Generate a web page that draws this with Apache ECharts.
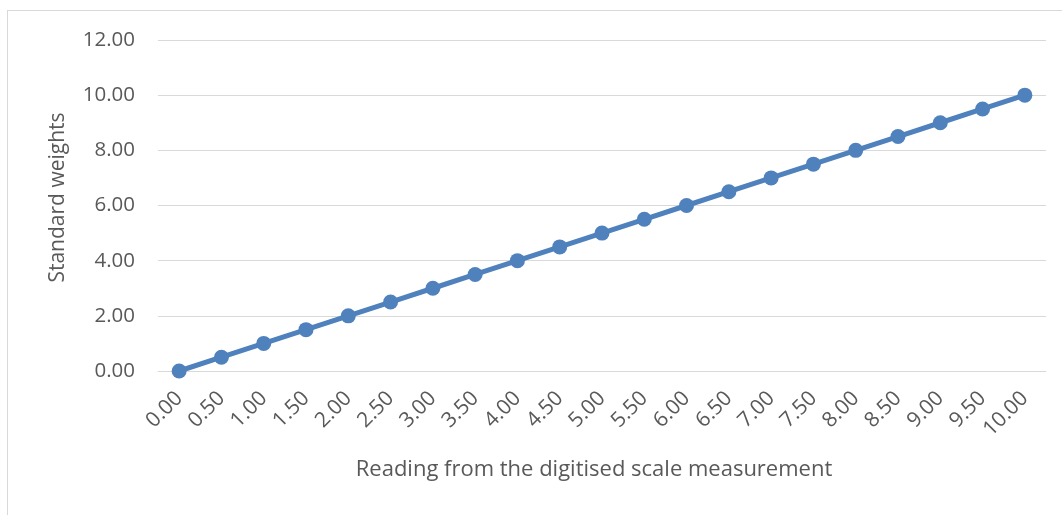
<!DOCTYPE html>
<html>
<head>
<meta charset="utf-8">
<script src="https://cdn.jsdelivr.net/npm/echarts@6/dist/echarts.min.js"></script>
<style>
  html, body { margin: 0; padding: 0; background: #fff; }
  .frame {
    position: absolute; left: 7px; top: 10px; width: 1070px; height: 520px;
    border: 1px solid #d9d9d9; box-sizing: border-box;
  }
  #chart { position: absolute; left: 0; top: 0; width: 1062px; height: 515px; }
</style>
</head>
<body>
<div class="frame"></div>
<div id="chart"></div>
<script>
// readings from the scale (x categories)
const readings = ["0.00","0.50","1.00","1.50","2.00","2.50","3.00","3.50","4.00","4.50","5.00",
  "5.50","6.00","6.50","7.00","7.50","8.00","8.50","9.00","9.50","10.00"];
// standard weights (y values)
const weights = [0, 0.5, 1, 1.5, 2, 2.5, 3, 3.5, 4, 4.5, 5, 5.5, 6, 6.5, 7, 7.5, 8, 8.5, 9, 9.5, 10];

const myChart = echarts.init(document.getElementById("chart"));
const font = "'Open Sans', sans-serif";

let options = {
  animation: false,
  color: ["#4f81bd"],
  grid: { left: 158, right: 16, top: 40, bottom: 144 },
  xAxis: {
    type: "category",
    data: readings,
    boundaryGap: true,
    name: "Reading from the digitised scale measurement",
    nameLocation: "middle",
    nameGap: 88,
    nameTextStyle: { color: "#595959", fontSize: 22, fontFamily: font, padding: [0, 16, 0, 0] },
    axisLine: { lineStyle: { color: "#d9d9d9", width: 1 } },
    axisTick: { show: false },
    axisLabel: {
      rotate: 45, interval: 0, margin: 24,
      color: "#595959", fontSize: 21, fontFamily: font
    }
  },
  yAxis: {
    type: "value",
    min: 0, max: 12, interval: 2,
    name: "Standard weights",
    nameLocation: "middle",
    nameGap: 89,
    nameTextStyle: { color: "#595959", fontSize: 21, fontFamily: font, padding: [0, 0, 0, 16] },
    axisLine: { show: false },
    axisTick: { show: false },
    axisLabel: {
      margin: 23, color: "#595959", fontSize: 20.5, fontFamily: font,
      formatter: (v) => v.toFixed(2)
    },
    splitLine: { lineStyle: { color: "#d9d9d9", width: 1 } }
  },
  series: [
    {
      type: "line",
      data: weights,
      symbol: "circle",
      symbolSize: 15,
      lineStyle: { width: 5 },
      itemStyle: { color: "#4f81bd" }
    }
  ]
};

myChart.setOption(options);
</script>
</body>
</html>
